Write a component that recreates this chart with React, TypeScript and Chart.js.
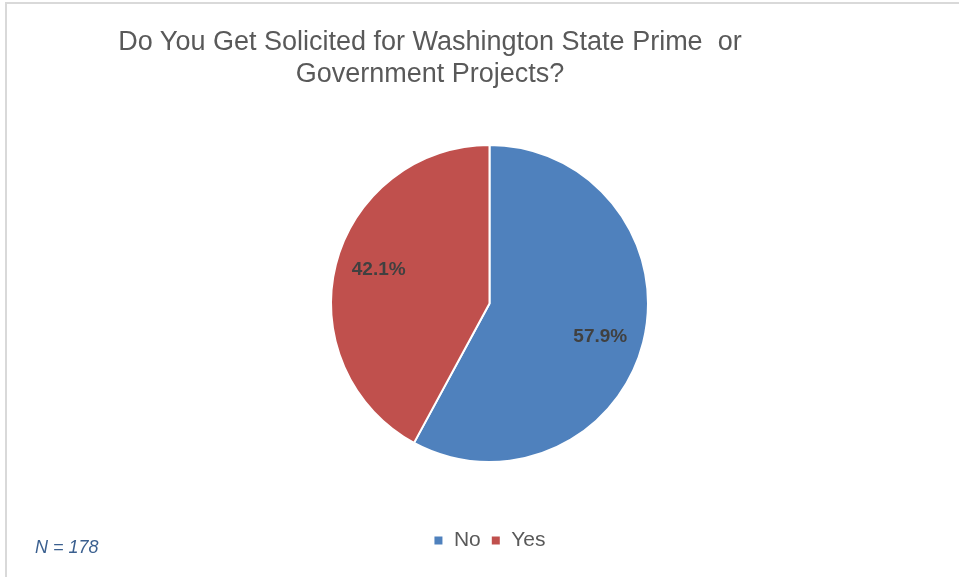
import React, { useEffect, useRef } from "react";
import { Chart, registerables } from "chart.js";

Chart.register(...registerables);

const TITLE_LINES = ["Do You Get Solicited for Washington State Prime  or", "Government Projects?"];
const CATEGORIES = ["No", "Yes"];
const PERCENTS = [57.9, 42.1];
const COLORS = ["#4F81BD", "#C0504D"];
const NOTE = "N = 178";

const FONT = '"Liberation Sans", Arial, sans-serif';

const sliceLabels = {
  id: "sliceLabels",
  afterDatasetsDraw(chart: any) {
    const ctx = chart.ctx;
    const meta = chart.getDatasetMeta(0);
    const data = chart.data.datasets[0].data as number[];
    ctx.save();
    ctx.font = `bold 19px ${FONT}`;
    ctx.fillStyle = "#404040";
    ctx.textAlign = "center";
    ctx.textBaseline = "middle";
    meta.data.forEach((arc: any, i: number) => {
      const { x, y, startAngle, endAngle, outerRadius } = arc.getProps(
        ["x", "y", "startAngle", "endAngle", "outerRadius"],
        true
      );
      const mid = (startAngle + endAngle) / 2 + 0.045;
      const r = outerRadius * 0.73;
      ctx.fillText(data[i].toFixed(1) + "%", x + Math.cos(mid) * r, y + Math.sin(mid) * r);
    });
    ctx.restore();
  },
};

export default function App() {
  const canvasRef = useRef<HTMLCanvasElement>(null);

  useEffect(() => {
    if (!canvasRef.current) return;
    const chart = new Chart(canvasRef.current, {
      type: "pie",
      data: {
        labels: CATEGORIES,
        datasets: [
          {
            data: PERCENTS,
            backgroundColor: COLORS,
            borderColor: "#ffffff",
            borderWidth: 2,
            offset: 0,
            hoverOffset: 0,
          },
        ],
      },
      options: {
        responsive: false,
        animation: false,
        layout: { padding: { left: 330, right: 310, top: 87, bottom: 16 } },
        plugins: {
          title: { display: false },
          tooltip: { enabled: false },
          legend: {
            display: true,
            position: "bottom",
            labels: {
              boxWidth: 10,
              boxHeight: 10,
              padding: 10,
              color: "#595959",
              font: { family: FONT, size: 21 },
            },
          },
        },
      },
      plugins: [sliceLabels],
    });
    return () => chart.destroy();
  }, []);

  return (
    <div
      style={{
        position: "absolute",
        left: 0,
        top: 0,
        width: 959,
        height: 577,
        background: "#ffffff",
        overflow: "hidden",
      }}
    >
      <div
        style={{
          position: "absolute",
          left: 5,
          top: 2,
          width: 960,
          height: 580,
          borderLeft: "2px solid #d9d9d9",
          borderTop: "2px solid #d9d9d9",
        }}
      />
      <canvas
        ref={canvasRef}
        width={959}
        height={577}
        style={{ position: "absolute", left: 0, top: 0, width: 959, height: 577 }}
      />
      <div
        style={{
          position: "absolute",
          left: 80,
          top: 25,
          width: 700,
          textAlign: "center",
          fontFamily: FONT,
          fontSize: 27,
          lineHeight: "32px",
          color: "#595959",
          whiteSpace: "pre",
        }}
      >
        {TITLE_LINES.map((l, i) => (
          <div key={i}>{l}</div>
        ))}
      </div>
      <div
        style={{
          position: "absolute",
          left: 35,
          top: 537,
          fontFamily: FONT,
          fontSize: 18,
          fontStyle: "italic",
          lineHeight: "20px",
          color: "#3A5F8F",
          whiteSpace: "pre",
        }}
      >
        {NOTE}
      </div>
    </div>
  );
}
